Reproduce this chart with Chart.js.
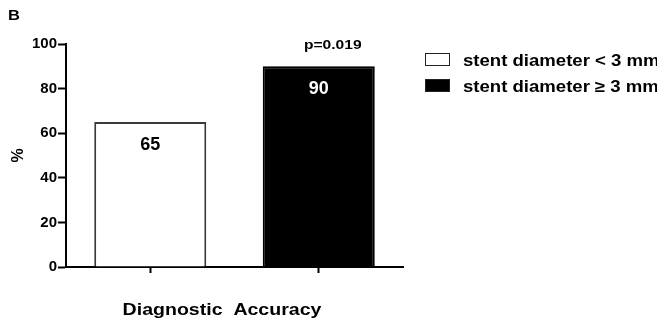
<!DOCTYPE html>
<html>
<head>
<meta charset="utf-8">
<script src="https://cdn.jsdelivr.net/npm/chart.js@4"></script>
<style>
    body { margin: 0; background: #fff; }
    canvas { display: block; }
</style>
</head>
<body>
<canvas id="chart" width="657" height="324"></canvas>
<script>
// Chart data
const categories = ['stent diameter < 3 mm', 'stent diameter \u2265 3 mm'];
const accuracy = [65, 90];
const barColors = ['#ffffff', '#000000'];
const borderColors = ['#3a3a3a', '#000000'];
const labelColors = ['#000000', '#ffffff'];
const yTicks = [0, 20, 40, 60, 80, 100];
const pValue = 'p=0.019';
const panelLetter = 'B';
const xTitle = 'Diagnostic  Accuracy';
const yTitle = '%';

const FONT = '"Liberation Sans", Arial, sans-serif';

// draws text with a little horizontal stretch like the original export
function stretchText(ctx, txt, x, y, size, sx, align, color) {
    ctx.save();
    ctx.translate(x, y);
    ctx.scale(sx, 1);
    ctx.font = `bold ${size}px ${FONT}`;
    ctx.textAlign = align;
    ctx.textBaseline = 'alphabetic';
    ctx.fillStyle = color || '#000';
    ctx.fillText(txt, 0, 0);
    ctx.restore();
}

const annotations = {
    id: 'annotations',
    afterDraw(chart) {
        const ctx = chart.ctx;
        const area = chart.chartArea;
        const bars = chart.getDatasetMeta(0).data;

        // values inside bars
        bars.forEach((bar, i) => {
            ctx.save();
            ctx.font = `bold 18px ${FONT}`;
            ctx.textAlign = 'center';
            ctx.textBaseline = 'middle';
            ctx.fillStyle = labelColors[i];
            ctx.fillText(String(accuracy[i]), bar.x, bar.y + 23);
            ctx.restore();
        });

        // p value above second bar
        const b2 = bars[1];
        stretchText(ctx, pValue, b2.x + 14, b2.y - 17, 13, 1.2, 'center');

        // panel letter and axis titles
        stretchText(ctx, panelLetter, 8, 20, 15, 1.1, 'left');
        stretchText(ctx, xTitle, area.left + 156, 315, 17, 1.15, 'center');

        ctx.save();
        ctx.translate(23, (area.top + area.bottom) / 2);
        ctx.rotate(-Math.PI / 2);
        ctx.font = `bold 16px ${FONT}`;
        ctx.textAlign = 'center';
        ctx.textBaseline = 'alphabetic';
        ctx.fillStyle = '#000';
        ctx.fillText(yTitle, 0, 0);
        ctx.restore();

        // legend
        const lx = 425, rows = [53, 79];
        categories.forEach((cat, i) => {
            ctx.save();
            ctx.fillStyle = barColors[i];
            ctx.strokeStyle = '#222';
            ctx.lineWidth = 1;
            ctx.fillRect(lx, rows[i], 25, 13);
            ctx.strokeRect(lx + 0.5, rows[i] + 0.5, 24, 12);
            ctx.restore();
            stretchText(ctx, cat, 463, rows[i] + 13, 16, 1.16, 'left');
        });
    }
};

new Chart(document.getElementById('chart'), {
    type: 'bar',
    data: {
        labels: categories,
        datasets: [{
            data: accuracy,
            backgroundColor: barColors,
            borderColor: borderColors,
            borderWidth: 2,
            categoryPercentage: 1,
            barPercentage: 0.665
        }]
    },
    options: {
        responsive: false,
        animation: false,
        devicePixelRatio: 1,
        layout: { padding: { left: 0, right: 254, top: 44, bottom: 0 } },
        plugins: {
            legend: { display: false },
            tooltip: { enabled: false }
        },
        scales: {
            x: {
                afterFit: (s) => { s.height = 57; },
                border: { display: true, color: '#000', width: 2 },
                grid: {
                    offset: false,
                    drawOnChartArea: false,
                    tickLength: 6,
                    tickWidth: 2,
                    tickColor: '#000'
                },
                ticks: { callback: () => '' }
            },
            y: {
                min: 0,
                max: 100,
                afterFit: (s) => { s.width = 66; },
                afterBuildTicks: (s) => { s.ticks = yTicks.map(v => ({ value: v })); },
                border: { display: true, color: '#000', width: 2 },
                grid: {
                    drawOnChartArea: false,
                    tickLength: 8,
                    tickWidth: 2,
                    tickColor: '#000'
                },
                ticks: {
                    padding: 1,
                    color: '#000',
                    font: { family: FONT, size: 15, weight: 'bold' }
                }
            }
        }
    },
    plugins: [annotations]
});
</script>
</body>
</html>
